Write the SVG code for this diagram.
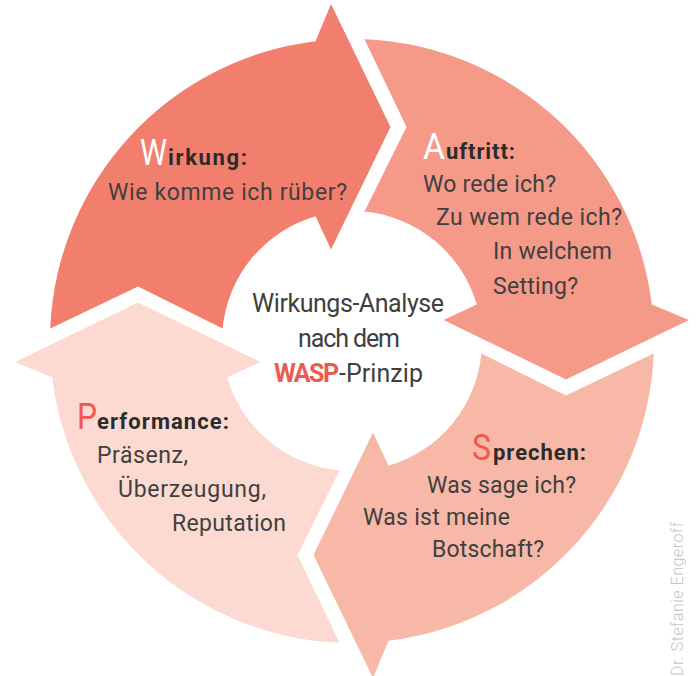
<svg xmlns="http://www.w3.org/2000/svg" xmlns:xlink="http://www.w3.org/1999/xlink" width="698" height="676" viewBox="0 0 698 676">
  <style>
    .t { font-family: Roboto, "Liberation Sans", sans-serif; font-size: 23px; fill: #404040; }
    .h { font-family: Roboto, "Liberation Sans", sans-serif; font-size: 22px; font-weight: 700; fill: #2b2b2b; }
    .ini { font-family: Roboto, "Liberation Sans", sans-serif; font-size: 37px; }
    .c { font-family: Roboto, "Liberation Sans", sans-serif; font-size: 25px; fill: #404040; }
    .red { fill: #EE5A52; }
    .white { fill: #ffffff; }
    .credit { font-family: Roboto, "Liberation Sans", sans-serif; font-size: 16px; font-weight: 300; fill: #c4c4c4; }
  </style>
  <defs>
    <path id="seg" d="M -301.74,-12.5 A 302 302 0 0 1 -36.5,-299.8 L -21,-337 L 38.5,-214 L -21,-91.5 L -36.5,-124.8 A 130 130 0 0 0 -129.4,-12.5 L -214,-54.5 Z"/>
  </defs>
  <rect width="698" height="676" fill="#ffffff"/>

  <g id="node-wirkung">
    <use xlink:href="#seg" href="#seg" transform="translate(352,341)" fill="#F27F6D"/>
    <text class="ini white" x="140" y="165" textLength="27" lengthAdjust="spacingAndGlyphs">W</text>
    <text class="h" x="168" y="165" textLength="79">irkung:</text>
    <text class="t" x="108" y="200" textLength="239">Wie komme ich rüber?</text>
  </g>

  <g id="node-auftritt">
    <use xlink:href="#seg" href="#seg" transform="translate(352,341) rotate(90)" fill="#F59A89"/>
    <text class="ini white" x="423" y="159" textLength="22" lengthAdjust="spacingAndGlyphs">A</text>
    <text class="h" x="446" y="159" textLength="69">uftritt:</text>
    <text class="t" x="423" y="192" textLength="133">Wo rede ich?</text>
    <text class="t" x="436" y="225" textLength="186">Zu wem rede ich?</text>
    <text class="t" x="493" y="259" textLength="119">In welchem</text>
    <text class="t" x="493" y="294" textLength="85">Setting?</text>
  </g>

  <g id="node-sprechen">
    <use xlink:href="#seg" href="#seg" transform="translate(352,341) rotate(180)" fill="#F8B8A7"/>
    <text class="ini red" x="472" y="460" textLength="19" lengthAdjust="spacingAndGlyphs">S</text>
    <text class="h" x="493" y="460" textLength="93">prechen:</text>
    <text class="t" x="427" y="493" textLength="149">Was sage ich?</text>
    <text class="t" x="363" y="525" textLength="147">Was ist meine</text>
    <text class="t" x="432" y="557" textLength="112">Botschaft?</text>
  </g>

  <g id="node-performance">
    <use xlink:href="#seg" href="#seg" transform="translate(352,341) rotate(270)" fill="#FCDAD1"/>
    <text class="ini red" x="77" y="429" textLength="20" lengthAdjust="spacingAndGlyphs">P</text>
    <text class="h" x="97" y="429" textLength="132">erformance:</text>
    <text class="t" x="97" y="463" textLength="91">Präsenz,</text>
    <text class="t" x="118" y="497" textLength="148">Überzeugung,</text>
    <text class="t" x="172" y="531" textLength="114">Reputation</text>
  </g>

  <g id="node-center">
    <text class="c" x="252" y="312" textLength="192">Wirkungs-Analyse</text>
    <text class="c" x="298" y="347" textLength="102">nach dem</text>
    <text class="c" x="274" y="382"><tspan class="red" font-weight="700" textLength="65">WASP</tspan><tspan x="339" textLength="84">-Prinzip</tspan></text>
  </g>

  <g id="credit">
    <text class="credit" transform="translate(683,676) rotate(-90)" x="0" y="0" textLength="154">Dr. Stefanie Engeroff</text>
  </g>
</svg>
